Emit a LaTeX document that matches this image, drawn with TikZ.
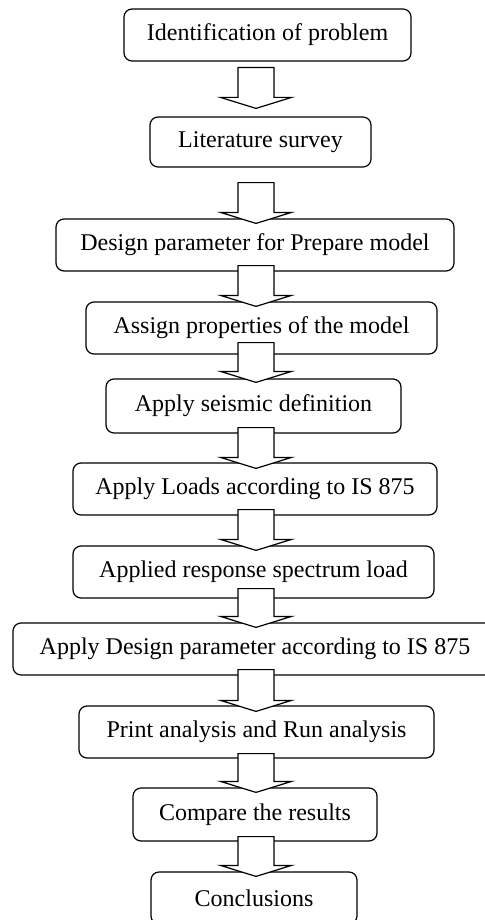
\documentclass[tikz,border=0pt]{standalone}
\usepackage{fontspec}
\setmainfont{Liberation Serif}
\usetikzlibrary{calc}
\tikzset{
  box/.style={draw=black, line width=0.6pt, rounded corners=4pt, inner sep=0pt,
    minimum height=26pt, align=center, font=\fontsize{12}{14}\selectfont},
  blockarrow/.style={draw=black, fill=white, line width=0.6pt, line join=miter}
}
% #1 source node, #2 gap below its south, #3 target node, #4 tip depth below its north
\newcommand{\flowarrow}[4]{%
  \path (ax |- #1.south) ++(0,#2) coordinate (s);
  \path (ax |- #3.north) ++(0,#4) coordinate (t);
  \draw[blockarrow] ($(s)+(-18,0)$) -- ($(t)+(-18,-11)$) -- ($(t)+(-35.5,-11)$) -- (t)
     -- ($(t)+(35.5,-11)$) -- ($(t)+(18,-11)$) -- ($(s)+(18,0)$) -- cycle;
}
\begin{document}
\begin{tikzpicture}[x=0.5pt,y=-0.5pt]
\useasboundingbox (0,0) rectangle (485,920);
\begin{scope}
\clip (0,0) rectangle (485,920);
\coordinate (ax) at (256,0);
\node[box, minimum width=143.5pt] (b1) at (267.5,35) {Identification of problem};
\node[box, minimum width=110.5pt, minimum height=25pt] (b2) at (260.5,142) {Literature survey};
\node[box, minimum width=199pt] (b3) at (255,245) {Design parameter for Prepare model};
\node[box, minimum width=175.5pt] (b4) at (261.5,328) {Assign properties of the model};
\node[box, minimum width=147.5pt, minimum height=27pt] (b5) at (253.5,406) {Apply seismic definition};
\node[box, minimum width=182pt] (b6) at (255,489) {Apply Loads according to IS 875};
\node[box, minimum width=180.5pt] (b7) at (253.5,572) {Applied response spectrum load};
\node[box, minimum width=242pt] (b8) at (255,649) {Apply Design parameter according to IS 875};
\node[box, minimum width=177.5pt] (b9) at (256.5,732) {Print analysis and Run analysis};
\node[box, minimum width=122pt, minimum height=26.5pt] (b10) at (255,814.5) {Compare the results};
\node[box, minimum width=103pt] (b11) at (254,898) {Conclusions};
\flowarrow{b1}{6}{b2}{-8}
\flowarrow{b2}{15}{b3}{5}
\flowarrow{b3}{-6}{b4}{5}
\flowarrow{b4}{-12}{b5}{4}
\flowarrow{b5}{-6}{b6}{6}
\flowarrow{b6}{-6}{b7}{5}
\flowarrow{b7}{-10}{b8}{5}
\flowarrow{b8}{-6}{b9}{6}
\flowarrow{b9}{-5}{b10}{5}
\flowarrow{b10}{-5}{b11}{5}
\end{scope}
\end{tikzpicture}
\end{document}
